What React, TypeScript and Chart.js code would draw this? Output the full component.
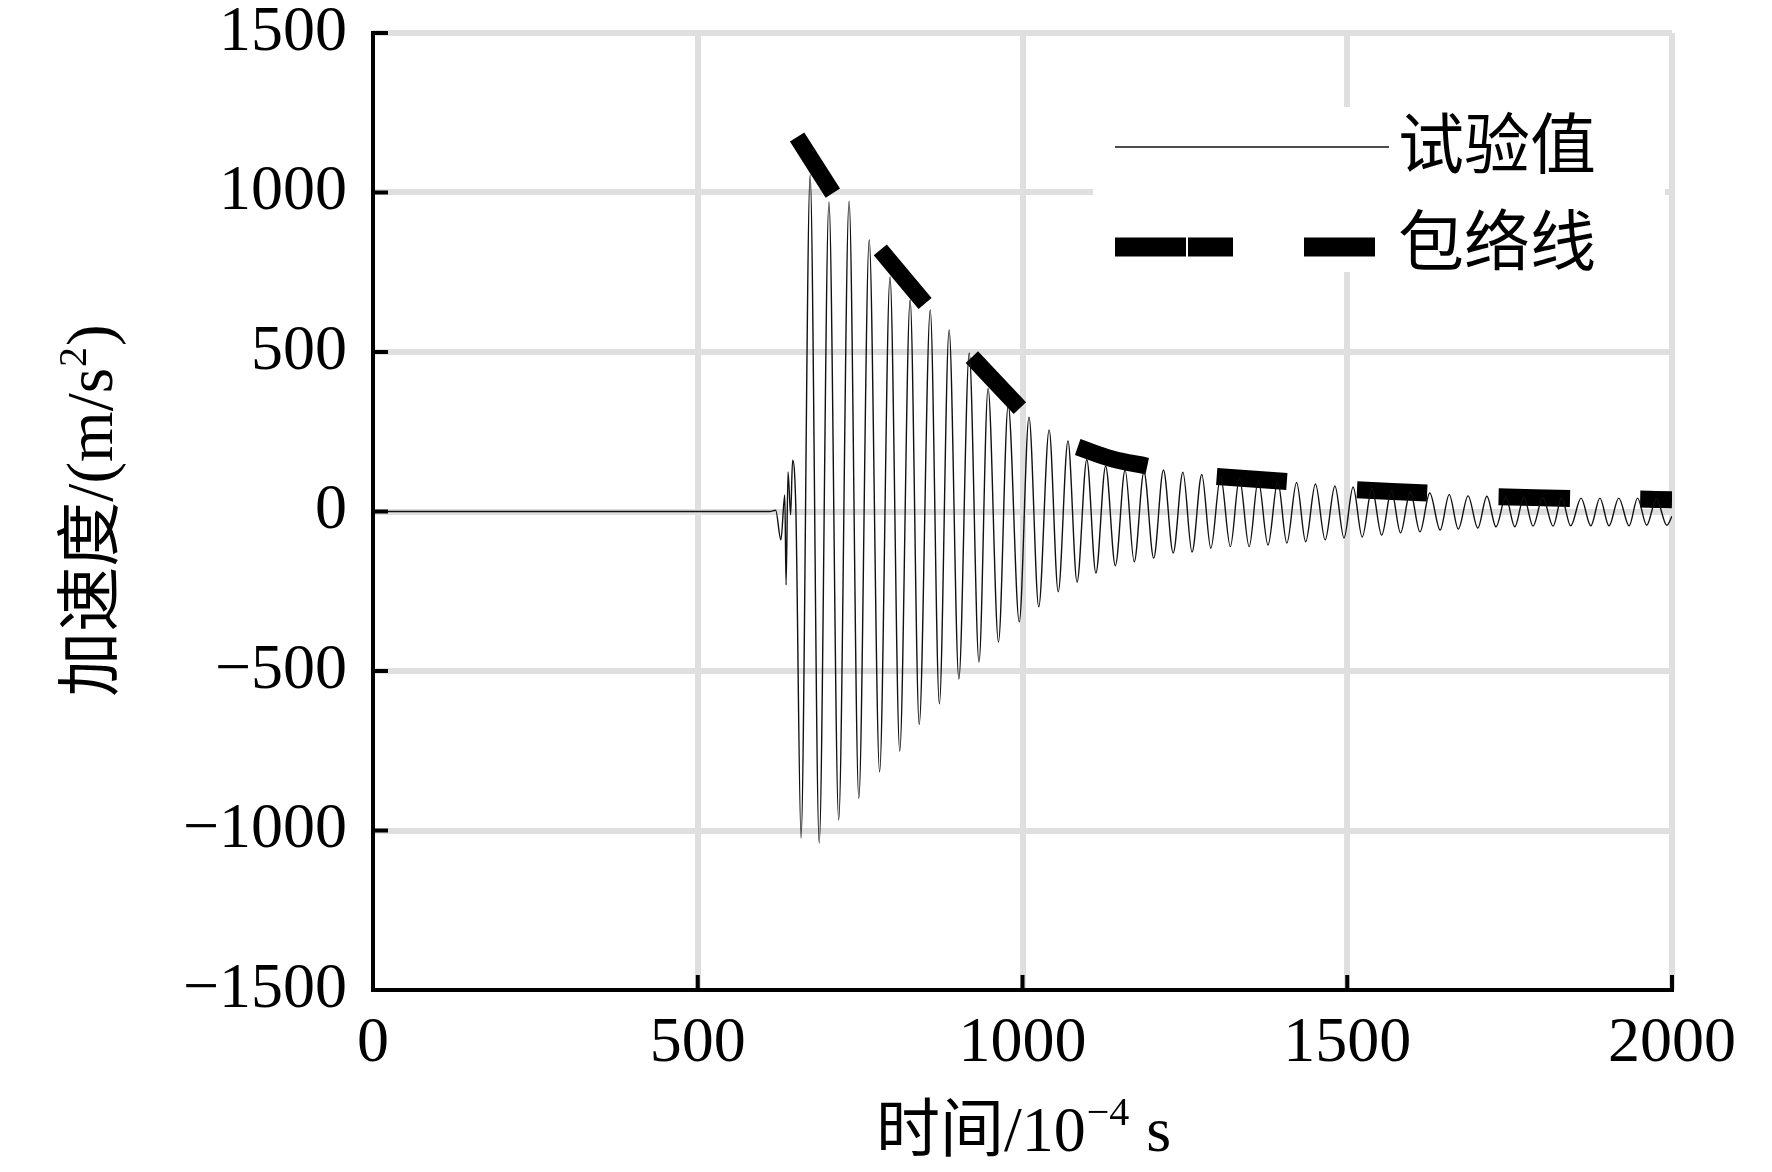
import React, { useEffect, useRef } from 'react';
import { Chart, registerables } from 'chart.js';

Chart.register(...registerables);

// ---------- data ----------
const xTicks = [0, 500, 1000, 1500, 2000];
const yTicks = [-1500, -1000, -500, 0, 500, 1000, 1500];

const testTime = [
  0, 611, 620, 628, 634, 636, 639, 643, 646, 651,
  659, 673, 687, 702, 717, 733, 748, 764, 780, 796,
  811, 827, 841, 858, 872, 887, 902, 918, 933, 947,
  963, 978, 995, 1010, 1025, 1041, 1055, 1070, 1084, 1099,
  1113, 1128, 1143, 1158, 1172, 1187, 1202, 1217, 1232, 1247,
  1261, 1276, 1290, 1305, 1320, 1334, 1349, 1363, 1378, 1393,
  1407, 1422, 1436, 1451, 1466, 1481, 1495, 1509, 1523, 1538,
  1553, 1568, 1582, 1597, 1612, 1627, 1643, 1657, 1671, 1686,
  1701, 1715, 1729, 1744, 1758, 1772, 1786, 1801, 1817, 1830,
  1844, 1860, 1875, 1889, 1903, 1918, 1934, 1947, 1961, 1976,
  1992, 2000,
];
const testAccel = [
  0, 0, 4, -89, 52, -230, 124, -10, 161, 10,
  -1024, 1055, -1039, 970, -967, 973, -899, 851, -816, 735,
  -751, 663, -667, 632, -603, 569, -525, 497, -472, 386,
  -409, 334, -346, 296, -299, 256, -252, 221, -221, 163,
  -193, 142, -170, 130, -158, 124, -146, 130, -130, 123,
  -127, 116, -115, 110, -110, 104, -110, 99, -105, 95,
  -99, 91, -95, 86, -89, 80, -83, 77, -80, 72,
  -74, 66, -67, 62, -64, 58, -58, 53, -55, 49,
  -52, 48, -48, 46, -48, 45, -46, 44, -46, 43,
  -45, 42, -45, 42, -45, 42, -45, 42, -43, 40,
  -43, -15,
];

// envelope: dashed thick line, segments separated by gaps (null)
const envTime = [
  653, 708, 745, 781, 850, 886, 922, 996, 1040, 1085, 1138, 1192,
  1245, 1299, 1407, 1461, 1515, 1623, 1678, 1733, 1843, 1897, 1951, 2000,
];
const envAccel = [
  1174, 998, null, 820, 652, null, 484, 324, null, 202, 165, 142,
  null, 110, 94, null, 68, 58, null, 46, 41, null, 39, 37,
];

const seriesNames = ['试验值', '包络线'];
const xTitleParts = ['时间/10', '\u22124', ' s'];
const yTitleParts = ['加速度/(m/s', '2', ')'];

// ---------- styles ----------
const SERIF = '"Liberation Serif", "Times New Roman", "Noto Sans CJK SC", serif';
const GRID = '#dfdfdf';

const decorPlugin = {
  id: 'decor',
  beforeDatasetsDraw(chart: any) {
    const ctx = chart.ctx;
    // legend background hides the grid under it
    ctx.save();
    ctx.fillStyle = '#ffffff';
    ctx.fillRect(1093, 107, 572, 165);
    ctx.restore();
  },
  afterDatasetsDraw(chart: any) {
    const ctx = chart.ctx;
    const { left, right, top, bottom } = chart.chartArea;
    const xs = chart.scales.x;
    const ys = chart.scales.y;
    ctx.save();
    ctx.strokeStyle = '#000';
    ctx.lineCap = 'butt';
    ctx.lineWidth = 4;
    // axes
    ctx.beginPath();
    ctx.moveTo(left, top - 2);
    ctx.lineTo(left, bottom);
    ctx.lineTo(right + 2, bottom);
    ctx.stroke();
    // inward ticks
    ctx.beginPath();
    yTicks.forEach((v) => {
      const py = ys.getPixelForValue(v);
      ctx.moveTo(left, py);
      ctx.lineTo(left + 15, py);
    });
    xTicks.forEach((v) => {
      const px = xs.getPixelForValue(v);
      ctx.moveTo(px, bottom);
      ctx.lineTo(px, bottom - 15);
    });
    ctx.stroke();

    // legend
    ctx.lineWidth = 1.4;
    ctx.strokeStyle = '#111';
    ctx.beginPath();
    ctx.moveTo(1115, 147);
    ctx.lineTo(1389, 147);
    ctx.stroke();
    ctx.lineWidth = 19;
    ctx.strokeStyle = '#000';
    ctx.setLineDash([71, 2, 45, 71]);
    ctx.beginPath();
    ctx.moveTo(1115, 247);
    ctx.lineTo(1375, 247);
    ctx.stroke();
    ctx.setLineDash([]);
    ctx.fillStyle = '#000';
    ctx.font = `66px ${SERIF}`;
    ctx.textAlign = 'left';
    ctx.textBaseline = 'middle';
    ctx.fillText(seriesNames[0], 1398, 151);
    ctx.fillText(seriesNames[1], 1398, 248);

    // x title with superscript
    const mainF = `64px ${SERIF}`;
    const supF = `40px ${SERIF}`;
    ctx.font = mainF;
    const w0 = ctx.measureText(xTitleParts[0]).width;
    const w2 = ctx.measureText(xTitleParts[2]).width;
    ctx.font = supF;
    const w1 = ctx.measureText(xTitleParts[1]).width;
    const cx = (left + right) / 2;
    let sx = cx - (w0 + w1 + w2) / 2;
    const ty = 1134;
    ctx.textBaseline = 'middle';
    ctx.font = mainF;
    ctx.fillText(xTitleParts[0], sx, ty);
    sx += w0;
    ctx.font = supF;
    ctx.fillText(xTitleParts[1], sx + 1, ty - 20);
    sx += w1 + 2;
    ctx.font = mainF;
    ctx.fillText(xTitleParts[2], sx, ty);

    // y title rotated
    const yMainF = `65px ${SERIF}`;
    const ySupF = `40px ${SERIF}`;
    ctx.font = yMainF;
    const v0 = ctx.measureText(yTitleParts[0]).width;
    const v2 = ctx.measureText(yTitleParts[2]).width;
    ctx.font = ySupF;
    const v1 = ctx.measureText(yTitleParts[1]).width;
    ctx.translate(95, (top + bottom) / 2);
    ctx.rotate(-Math.PI / 2);
    let sy = -(v0 + v1 + v2) / 2;
    ctx.font = yMainF;
    ctx.fillText(yTitleParts[0], sy, 0);
    sy += v0;
    ctx.font = ySupF;
    ctx.fillText(yTitleParts[1], sy + 1, -20);
    sy += v1 + 2;
    ctx.font = yMainF;
    ctx.fillText(yTitleParts[2], sy, 0);
    ctx.restore();
  },
};

export default function App() {
  const ref = useRef<HTMLCanvasElement | null>(null);

  useEffect(() => {
    if (!ref.current) return;
    const testData = testTime.map((t, i) => ({ x: t, y: testAccel[i] }));
    const envData = envTime.map((t, i) => ({ x: t, y: envAccel[i] }));
    const chart = new Chart(ref.current, {
      type: 'line',
      data: {
        datasets: [
          {
            label: seriesNames[0],
            data: testData,
            borderColor: '#111',
            borderWidth: 1.4,
            pointRadius: 0,
            cubicInterpolationMode: 'monotone',
            fill: false,
          },
          {
            label: seriesNames[1],
            data: envData as any,
            borderColor: '#000',
            borderWidth: 17,
            borderCapStyle: 'butt',
            pointRadius: 0,
            tension: 0.4,
            spanGaps: false,
            fill: false,
          },
        ],
      },
      options: {
        animation: false,
        responsive: false,
        devicePixelRatio: 1,
        layout: { padding: { left: 0, top: 33, right: 100, bottom: 0 } },
        plugins: {
          legend: { display: false },
          tooltip: { enabled: false },
          title: { display: false },
        },
        scales: {
          x: {
            type: 'linear',
            min: 0,
            max: 2000,
            afterBuildTicks: (s: any) => {
              s.ticks = xTicks.map((v) => ({ value: v }));
            },
            afterFit: (s: any) => {
              s.height = 182;
              s.paddingLeft = 0;
              s.paddingRight = 0;
            },
            ticks: {
              autoSkip: false,
              maxRotation: 0,
              padding: 22,
              color: '#000',
              font: { family: SERIF, size: 64, lineHeight: 1 },
              callback: (v: any) => String(v),
            },
            grid: {
              drawTicks: false,
              lineWidth: 6,
              color: (c: any) => (c.tick && c.tick.value === 0 ? 'rgba(0,0,0,0)' : GRID),
            },
            border: { display: false },
          },
          y: {
            type: 'linear',
            min: -1500,
            max: 1500,
            afterBuildTicks: (s: any) => {
              s.ticks = yTicks.map((v) => ({ value: v }));
            },
            afterFit: (s: any) => {
              s.width = 373;
              s.paddingTop = 0;
              s.paddingBottom = 0;
            },
            ticks: {
              autoSkip: false,
              padding: 26,
              color: '#000',
              font: { family: SERIF, size: 64, lineHeight: 1 },
              callback: (v: any) => (v < 0 ? '\u2212' + Math.abs(v) : String(v)),
            },
            grid: {
              drawTicks: false,
              lineWidth: 6,
              color: (c: any) => (c.tick && c.tick.value === -1500 ? 'rgba(0,0,0,0)' : GRID),
            },
            border: { display: false },
          },
        },
      },
      plugins: [decorPlugin],
    });
    return () => chart.destroy();
  }, []);

  return (
    <div style={{ position: 'absolute', left: 0, top: 0, width: 1772, height: 1172, background: '#fff' }}>
      <canvas ref={ref} width={1772} height={1172} style={{ display: 'block' }} />
    </div>
  );
}
